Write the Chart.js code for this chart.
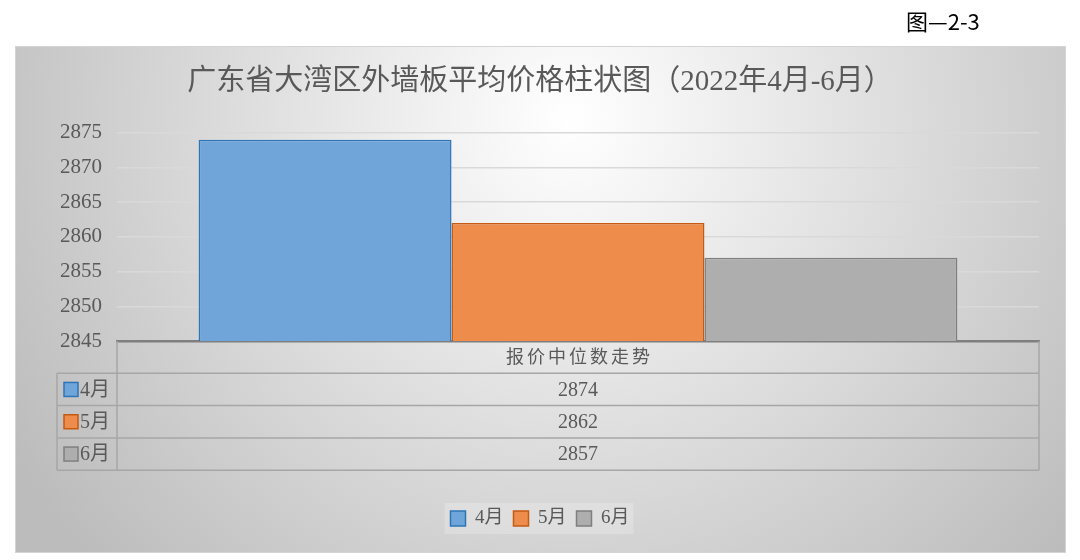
<!DOCTYPE html>
<html>
<head>
<meta charset="utf-8">
<script src="https://cdn.jsdelivr.net/npm/chart.js@4/dist/chart.umd.min.js"></script>
<style>
  html, body { margin: 0; padding: 0; background: #fff; }
  #wrap { width: 1080px; height: 560px; }
</style>
</head>
<body>
<div id="wrap"><canvas id="chart" width="1080" height="560"></canvas></div>
<script>
// data
const categories = ["报价中位数走势"];
const months = ["4月", "5月", "6月"];
const aprValues = [2874];
const mayValues = [2862];
const junValues = [2857];
const yMin = 2845;
const yMax = 2875;
const yStep = 5;

const fills = ["#70a5d9", "#ee8c4c", "#aeaeae"];
const borders = ["#2e75b6", "#c55a11", "#7f7f7f"];
const serif = "'Liberation Serif', 'Noto Sans CJK SC', serif";

// frame, gradient and the figure number
const backdrop = {
  id: "backdrop",
  beforeDraw(chart) {
    const ctx = chart.ctx;
    ctx.save();
    ctx.fillStyle = "#fff";
    ctx.fillRect(0, 0, chart.width, chart.height);
    const g = ctx.createRadialGradient(570, 120, 0, 570, 120, 650);
    g.addColorStop(0, "#ffffff");
    g.addColorStop(1, "#bcbcbc");
    ctx.fillStyle = g;
    ctx.fillRect(15, 46, 1051, 507);
    ctx.strokeStyle = "#d4d4d4";
    ctx.lineWidth = 1;
    ctx.strokeRect(15.5, 46.5, 1050, 506);
    ctx.fillStyle = "#000";
    ctx.font = "22px 'Noto Sans CJK SC', sans-serif";
    ctx.textBaseline = "middle";
    ctx.textAlign = "left";
    ctx.fillText("图—2-3", 906, 22);
    // soft box behind the legend
    const lg = chart.legend;
    if (lg && lg.legendHitBoxes.length) {
      const hb = lg.legendHitBoxes;
      const l = hb[0].left - 6, r = hb[hb.length - 1].left + hb[hb.length - 1].width + 4;
      ctx.fillStyle = "rgba(255,255,255,0.22)";
      ctx.fillRect(l, hb[0].top - 6, r - l, hb[0].height + 12);
    }
    ctx.restore();
  }
};

// data table under the plot, built from the same arrays
const dataTable = {
  id: "dataTable",
  afterDraw(chart) {
    const ctx = chart.ctx;
    const area = chart.chartArea;
    const top = area.bottom;
    const rowH = 32.3;
    const leftCol = 57;
    const bottom = top + rowH * 4;
    const cx = (area.left + area.right) / 2;
    ctx.save();
    ctx.strokeStyle = "#a6a6a6";
    ctx.lineWidth = 1.5;
    ctx.beginPath();
    ctx.moveTo(area.left, top); ctx.lineTo(area.left, bottom);
    ctx.moveTo(area.right, top); ctx.lineTo(area.right, bottom);
    ctx.moveTo(leftCol, top + rowH); ctx.lineTo(leftCol, bottom);
    for (let i = 1; i <= 4; i++) {
      ctx.moveTo(leftCol, top + rowH * i);
      ctx.lineTo(area.right, top + rowH * i);
    }
    ctx.stroke();

    ctx.textBaseline = "middle";
    ctx.fillStyle = "#595959";
    ctx.textAlign = "center";
    ctx.font = "18px " + serif;
    ctx.letterSpacing = "3px";
    ctx.fillText(categories[0], cx + 1.5, top + rowH / 2 + 1);
    ctx.letterSpacing = "0px";

    chart.data.datasets.forEach((ds, i) => {
      const y = top + rowH * (i + 1) + rowH / 2;
      ctx.fillStyle = ds.backgroundColor;
      ctx.fillRect(64, y - 7, 14, 14);
      ctx.strokeStyle = ds.borderColor;
      ctx.lineWidth = 1.5;
      ctx.strokeRect(64, y - 7, 14, 14);
      ctx.fillStyle = "#595959";
      ctx.textAlign = "left";
      ctx.font = "20px " + serif;
      ctx.fillText(ds.label, 80, y + 1);
      ctx.textAlign = "center";
      ctx.font = "20px " + serif;
      ctx.fillText(String(ds.data[0]), cx, y + 1);
    });
    ctx.restore();
  }
};

const seriesData = [aprValues, mayValues, junValues];

new Chart(document.getElementById("chart"), {
  type: "bar",
  data: {
    labels: categories,
    datasets: months.map((m, i) => ({
      label: m,
      data: seriesData[i],
      backgroundColor: fills[i],
      borderColor: borders[i],
      borderWidth: 1.5,
      categoryPercentage: 0.823,
      barPercentage: 1
    }))
  },
  options: {
    responsive: false,
    animation: false,
    layout: { padding: { left: 41, right: 41, top: 46, bottom: 22 } },
    scales: {
      x: {
        grid: { display: false },
        border: { color: "#7f7f7f", width: 2.5 },
        ticks: { display: false },
        afterFit: (axis) => { axis.height = 158; }
      },
      y: {
        min: yMin,
        max: yMax,
        grid: { color: "#d9d9d9", lineWidth: 1.5, drawTicks: false },
        border: { display: false },
        ticks: {
          stepSize: yStep,
          padding: 15,
          color: "#595959",
          font: { family: serif, size: 21 },
          callback: (v) => String(v)
        },
        afterFit: (axis) => { axis.width = 76; }
      }
    },
    plugins: {
      title: {
        display: true,
        text: "广东省大湾区外墙板平均价格柱状图（2022年4月-6月）",
        color: "#595959",
        font: { family: serif, size: 29, weight: "normal", lineHeight: 1.2 },
        padding: { top: 19, bottom: 33 }
      },
      legend: {
        position: "bottom",
        labels: {
          boxWidth: 15,
          boxHeight: 15,
          padding: 10,
          color: "#595959",
          font: { family: serif, size: 19 }
        }
      },
      tooltip: { enabled: false }
    }
  },
  plugins: [backdrop, dataTable]
});
</script>
</body>
</html>
